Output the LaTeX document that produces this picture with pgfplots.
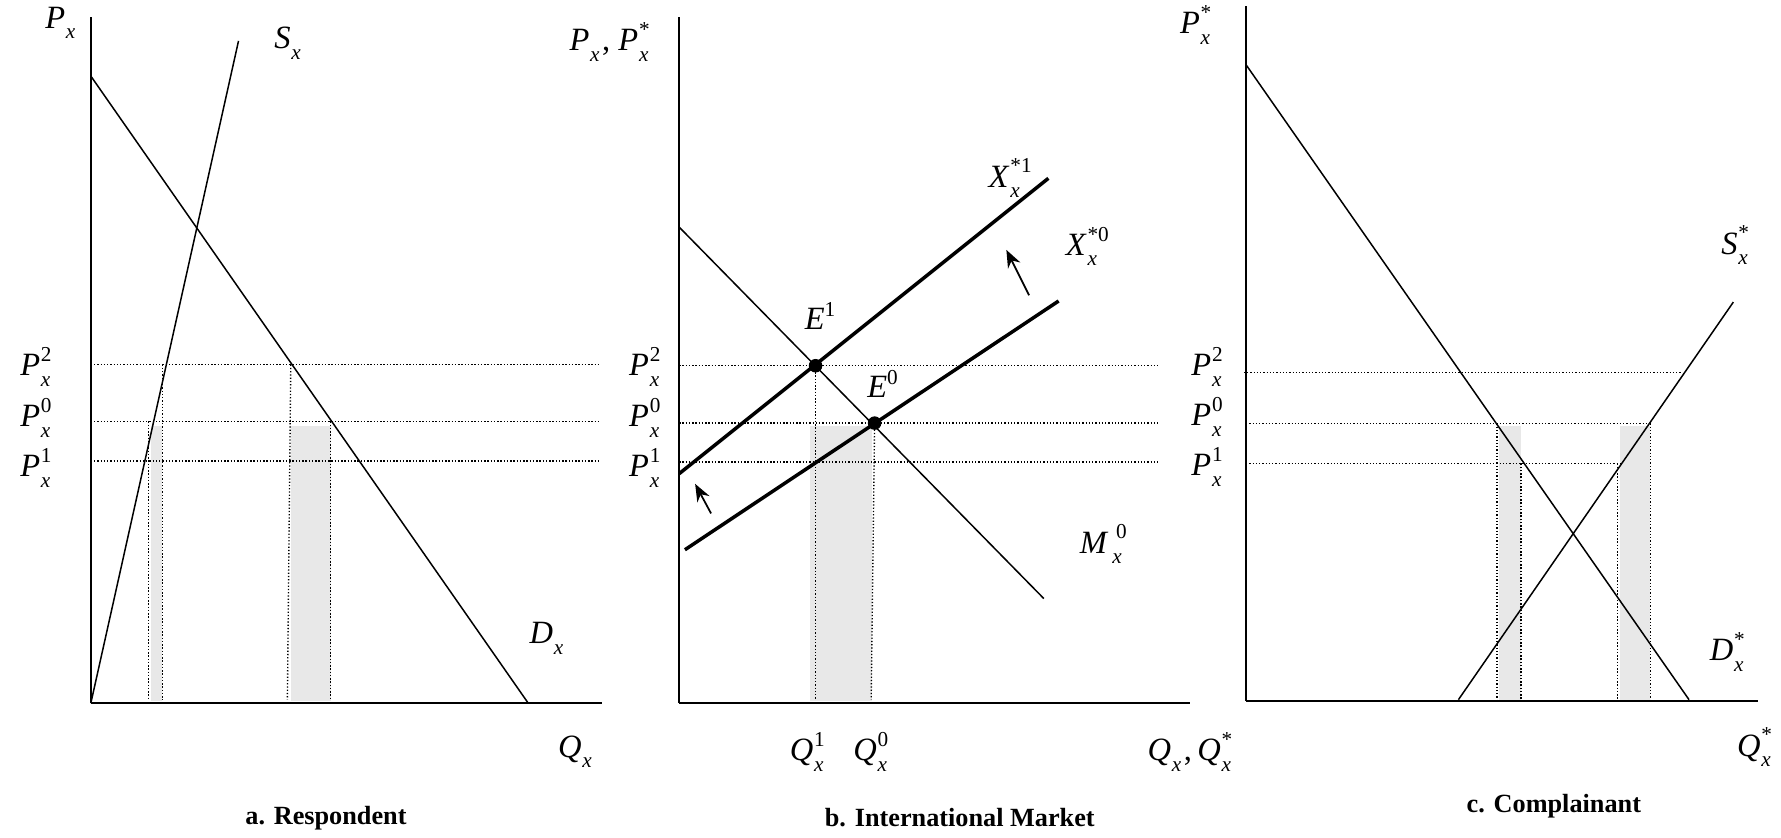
\documentclass[border=0pt]{standalone}
\usepackage{pgfplots}
\pgfplotsset{compat=1.18}
\usepackage{fontspec}
\setmainfont{Liberation Serif}
\usetikzlibrary{arrows.meta}
\newcommand{\sm}{\fontsize{8.5}{8.5}\selectfont}
\newcommand{\lab}[4][4.8pt]{\textit{#2}\kern0.3pt\rlap{\raisebox{5.7pt}{\sm #3}}\rlap{\raisebox{-4.2pt}{\sm\itshape #4}}\hspace{#1}}
\tikzset{lbl/.style={font=\fontsize{13}{13}\selectfont, inner sep=0pt},
  captxt/.style={font=\fontsize{10.5}{12}\selectfont\bfseries, inner sep=0pt}}
\begin{document}
\begin{tikzpicture}
\path[use as bounding box] (0,0) rectangle (712.34pt,334.82pt);
\pgfplotsset{panel/.style={scale only axis, axis lines=left, axis line style={-, line width=0.7pt},
  xtick=\empty, ytick=\empty, enlargelimits=false, clip=false, anchor=south west},
  thinl/.style={line width=0.6pt, black},
  thickl/.style={line width=1.4pt, black},
  dot/.style={line width=0.55pt, black, dash pattern=on 0.55pt off 0.75pt},
  shade/.style={fill=black!9, draw=none}}
% ---------------- panel a ----------------
\begin{axis}[panel, at={(36.344pt,53.607pt)}, width=204.44pt, height=274.40pt,
  xmin=80, xmax=530, ymin=118, ymax=722]
\addplot[shade] coordinates {(133,120) (143,120) (143,362) (133,362)} -- cycle;
\addplot[shade] coordinates {(256,120) (291,120) (291,362) (256,362)} -- cycle;
\addplot[dot] coordinates {(80,416) (527,416)};
\addplot[dot] coordinates {(80,366) (527,366)};
\addplot[dot] coordinates {(80,331) (527,331)};
\addplot[dot] coordinates {(131,366) (131,121)};
\addplot[dot] coordinates {(143,416) (143,121)};
\addplot[dot] coordinates {(256,416) (253,121)};
\addplot[dot] coordinates {(291,366) (291,121)};
\addplot[thinl] coordinates {(80,670) (465,118)};
\addplot[thinl] coordinates {(80,118) (210,701)};
\node[lbl] at (axis cs:49,717) {\lab{P}{}{x}};
\node[lbl] at (axis cs:249,699) {\lab{S}{}{x}};
\node[lbl] at (axis cs:477,175) {\lab{D}{}{x}};
\node[lbl] at (axis cs:502,75) {\lab{Q}{}{x}};
\node[lbl] at (axis cs:27,414) {\lab{P}{2}{x}};
\node[lbl] at (axis cs:27,369) {\lab{P}{0}{x}};
\node[lbl] at (axis cs:27,325) {\lab{P}{1}{x}};
\node[captxt] at (axis cs:287,17) {a. Respondent};
\end{axis}
% ---------------- panel b ----------------
\begin{axis}[panel, at={(271.67pt,53.607pt)}, width=204.44pt, height=274.40pt,
  xmin=598, xmax=1048, ymin=118, ymax=722]
\addplot[shade] coordinates {(713,120) (768,120) (768,362) (713,362)} -- cycle;
\addplot[dot] coordinates {(598,415) (1021,415)};
\addplot[dot] coordinates {(598,364.5) (1021,364.5)};
\addplot[dot] coordinates {(598,330.3) (1021,330.3)};
\addplot[dot] coordinates {(718,415) (718,121)};
\addplot[dot] coordinates {(770,364.5) (767,121)};
\addplot[thinl] coordinates {(598,537) (919,210)};
\addplot[thickl] coordinates {(598,320) (923,580)};
\addplot[thickl] coordinates {(603,253) (932,472)};
\addplot[only marks, mark=*, mark size=2.5pt, black] coordinates {(718,415) (770,364.5)};
\addplot[-{Stealth[length=7pt,width=5.5pt]}, line width=0.7pt] coordinates {(906,477) (886,517)};
\addplot[-{Stealth[length=7pt,width=5.5pt]}, line width=0.7pt] coordinates {(626,285) (612,311)};
\node[lbl] at (axis cs:532,700) {\lab{P}{}{x}, \lab{P}{*}{x}};
\node[lbl] at (axis cs:880,580) {\lab[8.5pt]{X}{*1}{x}};
\node[lbl] at (axis cs:948,520) {\lab[8.5pt]{X}{*0}{x}};
\node[lbl] at (axis cs:722,459) {\textit{E}\raisebox{5.2pt}{\sm 1}};
\node[lbl] at (axis cs:777,399) {\textit{E}\raisebox{5.2pt}{\sm 0}};
\node[lbl] at (axis cs:965,258) {\textit{M}\kern1.5pt\rlap{\raisebox{5.7pt}{\sm\kern1.5pt 0}}\rlap{\raisebox{-4.2pt}{\sm\itshape x}}\hspace{6pt}};
\node[lbl] at (axis cs:706,75) {\lab{Q}{1}{x}};
\node[lbl] at (axis cs:762,75) {\lab{Q}{0}{x}};
\node[lbl] at (axis cs:1043,75) {\lab{Q}{}{x},\,\lab{Q}{*}{x}};
\node[lbl] at (axis cs:563,414) {\lab{P}{2}{x}};
\node[lbl] at (axis cs:563,369) {\lab{P}{0}{x}};
\node[lbl] at (axis cs:563,325) {\lab{P}{1}{x}};
\node[captxt] at (axis cs:845,17) {b. International Market};
\end{axis}
% ---------------- panel c ----------------
\begin{axis}[panel, at={(498.37pt,54.52pt)}, width=204.89pt, height=278.03pt,
  xmin=1097, xmax=1548, ymin=120, ymax=732]
\addplot[shade] coordinates {(1320,121) (1339,121) (1339,362) (1320,362)} -- cycle;
\addplot[shade] coordinates {(1426,121) (1453,121) (1453,362) (1426,362)} -- cycle;
\addplot[dot] coordinates {(1095,409) (1481,409)};
\addplot[dot] coordinates {(1097,364.3) (1452,364.3)};
\addplot[dot] coordinates {(1097,329) (1427,329)};
\addplot[dot] coordinates {(1318,364.3) (1318,121)};
\addplot[dot] coordinates {(1339,329) (1339,121)};
\addplot[dot] coordinates {(1424,329) (1424,121)};
\addplot[dot] coordinates {(1453,364.3) (1453,121)};
\addplot[thinl] coordinates {(1097,680) (1487,121)};
\addplot[thinl] coordinates {(1284,121) (1526,471)};
\node[lbl] at (axis cs:1048,715) {\lab{P}{*}{x}};
\node[lbl] at (axis cs:1523,521) {\lab{S}{*}{x}};
\node[lbl] at (axis cs:1516,163) {\lab{D}{*}{x}};
\node[lbl] at (axis cs:1540,79) {\lab{Q}{*}{x}};
\node[lbl] at (axis cs:1058,414) {\lab{P}{2}{x}};
\node[lbl] at (axis cs:1058,370) {\lab{P}{0}{x}};
\node[lbl] at (axis cs:1058,326) {\lab{P}{1}{x}};
\node[captxt] at (axis cs:1368,27) {c. Complainant};
\end{axis}
\end{tikzpicture}
\end{document}
